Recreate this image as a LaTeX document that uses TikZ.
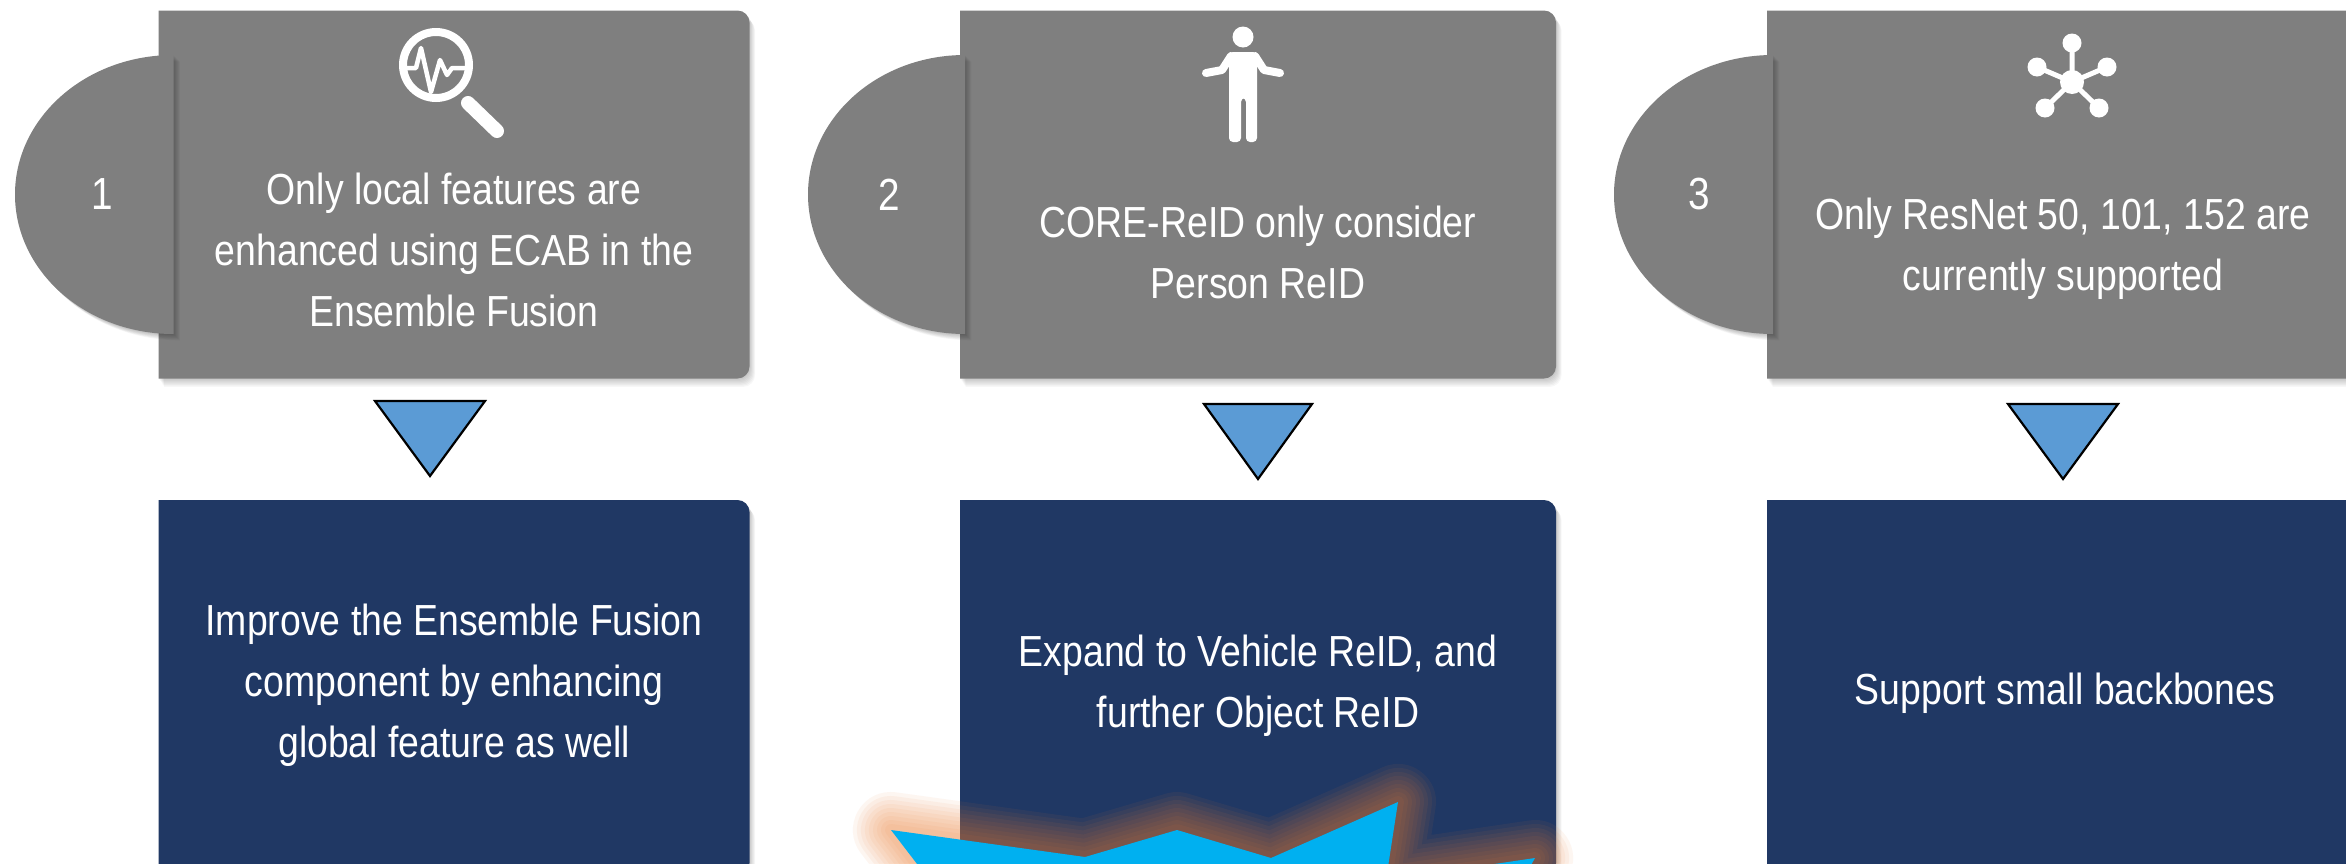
\documentclass[tikz,border=0pt]{standalone}
\usepackage{fontspec}
\setmainfont{Liberation Sans}[FakeStretch=0.86]
\definecolor{boxgray}{HTML}{7F7F7F}
\definecolor{navy}{HTML}{203864}
\definecolor{tri}{HTML}{5B9BD5}
\definecolor{burst}{HTML}{00B0F0}
\definecolor{glow}{HTML}{ED7D31}

% box with square left corners and rounded right corners: left, right, top, bottom
\newcommand\rbox[5]{%
  \foreach \s in {1,...,7}{
    \fill[black,opacity=0.03,shift={(\s*0.8,\s*1.2)}]
      (#1,#3) -- (#2-12,#3) arc[start angle=270,end angle=360,radius=12]
      -- (#2,#4-12) arc[start angle=0,end angle=90,radius=12] -- (#1,#4) -- cycle;
  }
  \fill[#5] (#1,#3) -- (#2-12,#3) arc[start angle=270,end angle=360,radius=12]
      -- (#2,#4-12) arc[start angle=0,end angle=90,radius=12] -- (#1,#4) -- cycle;
}
% half ellipse tab: flat right edge x, centre y, x radius, y radius
\newcommand\halftab[4]{%
  \foreach \s in {1,...,7}{
    \fill[black,opacity=0.035,shift={(\s*0.9,\s*0.9)}]
      (#1,#2+#4) arc[start angle=90,end angle=270,x radius=#3,y radius=#4] -- cycle;
  }
  \fill[boxgray] (#1,#2+#4) arc[start angle=90,end angle=270,x radius=#3,y radius=#4] -- cycle;
}

\tikzset{
  boxtext/.style={text=white,align=center,font=\fontsize{43.5}{61}\selectfont},
  numtext/.style={text=white,font=\fontsize{45}{50}\selectfont},
  arrowtri/.style={fill=tri,draw=black,line width=2.2pt,line join=miter},
  icon/.style={white,line width=#1,line cap=round,line join=round},
}

\begin{document}
\begin{tikzpicture}[x=1pt,y=-1pt]
\useasboundingbox (0,0) rectangle (2346,863);
\clip (0,0) rectangle (2346,863);
\fill[white] (0,0) rectangle (2346,863);

% ---- upper grey panels with tabs
\rbox{158.6}{749.5}{10.5}{378.5}{boxgray}
\rbox{960}{1556}{10.5}{378.5}{boxgray}
\rbox{1767}{2362}{10.5}{378.5}{boxgray}
\halftab{173.5}{194.5}{158.5}{139.5}
\halftab{965}{194.5}{157}{139.5}
\halftab{1773}{194.5}{159}{139.5}

\node[numtext] (n1) at (102,194.5) {1};
\node[numtext] (n2) at (889,194.5) {2};
\node[numtext] (n3) at (1699,194.5) {3};

% ---- icons
% magnifier with pulse trace
\draw[icon=8pt] (436,65) circle[radius=33];
\draw[icon=14pt] (468,103) -- (497,131);
\draw[icon=4.5pt] (404,68) -- (416,68) -- (421,48) -- (431,92) -- (440,60) -- (447,75) -- (452,68) -- (468,68);
% person shrugging
\fill[white] (1243,37) circle[radius=10.5];
\fill[white,rounded corners=4] (1229,52) -- (1257,52) -- (1257,142) -- (1246,142) -- (1246,98)
   -- (1241,98) -- (1241,142) -- (1229,142) -- cycle;
\draw[icon=8pt] (1231,56) -- (1222,70) -- (1206,73);
\draw[icon=8pt] (1255,56) -- (1264,70) -- (1280,73);
% network / hub
\draw[icon=5pt] (2072,82) -- (2072,43) (2072,82) -- (2037,67) (2072,82) -- (2107,67)
   (2072,82) -- (2045,108) (2072,82) -- (2099,108);
\fill[white] (2072,82) circle[radius=12];
\foreach \p in {(2072,43),(2037,67),(2107,67),(2045,108),(2099,108)}
  \fill[white] \p circle[radius=9.5];

% ---- texts in the grey panels
\node[boxtext] (p1) at (454,250) {Only local features are\\enhanced using ECAB in the\\Ensemble Fusion};
\node[boxtext] (p2) at (1258,252) {CORE-ReID only consider\\Person ReID};
\node[boxtext] (p3) at (2063,249) {Only ResNet 50, 101, 152 are\\currently supported};

% ---- down markers
\draw[arrowtri] (375,401) -- (485,401) -- (430,476) -- cycle;
\draw[arrowtri] (1204,404) -- (1312,404) -- (1258,479) -- cycle;
\draw[arrowtri] (2008,404) -- (2118,404) -- (2063,479) -- cycle;

% ---- lower navy panels
\rbox{158.6}{749.5}{500}{875}{navy}
\rbox{960}{1556}{500}{875}{navy}
\rbox{1767}{2362}{500}{875}{navy}

\node[boxtext] (s1) at (454,685) {Improve the Ensemble Fusion\\component by enhancing\\global feature as well};
\node[boxtext] (s2) at (1258,686) {Expand to Vehicle ReID, and\\further Object ReID};
\node[boxtext] (s3) at (2065,693) {Support small backbones};

% ---- burst with orange glow
\def\burstpath{(891,830) -- (1085,857) -- (1177,830) -- (1271,858) -- (1398,802)
  -- (1386,880) -- (1535,858) -- (1500,920) -- (960,920) -- cycle}
\foreach \w in {76,68,...,8}
  \draw[glow,opacity=0.065,line width=\w pt,line join=round] \burstpath;
\fill[burst] \burstpath;
\end{tikzpicture}
\end{document}
